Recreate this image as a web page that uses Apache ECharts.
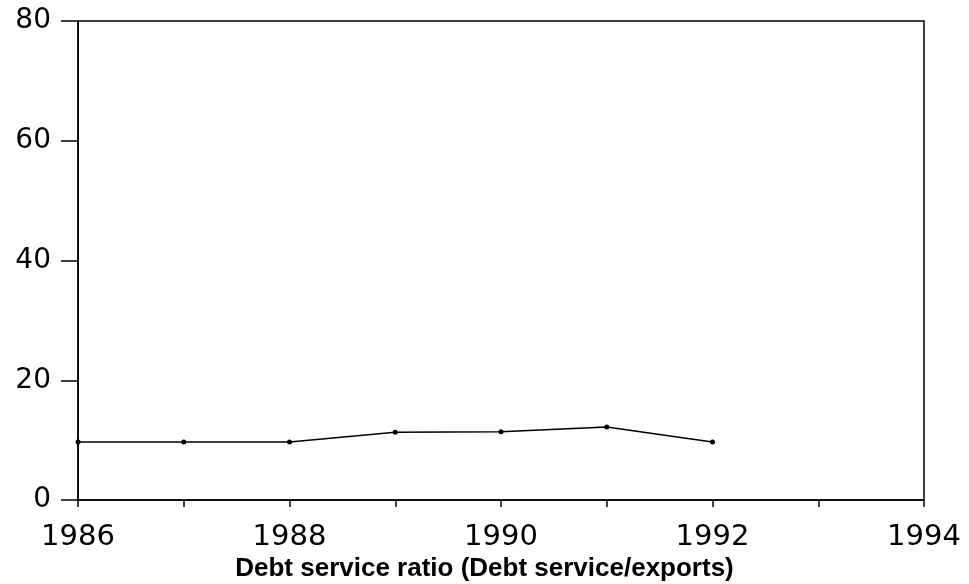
<!DOCTYPE html>
<html>
<head>
<meta charset="utf-8">
<script src="https://cdn.jsdelivr.net/npm/echarts@6/dist/echarts.min.js"></script>
<style>
html, body { margin: 0; padding: 0; background: #fff; }
#chart { width: 969px; height: 584px; }
</style>
</head>
<body>
<div id="chart"></div>
<script>
// values
var years = [1986, 1987, 1988, 1989, 1990, 1991, 1992];
var ratio = [9.7, 9.7, 9.7, 11.3, 11.4, 12.2, 9.7];
var yTicks = [0, 20, 40, 60, 80];
var xTickLabels = [1986, 1988, 1990, 1992, 1994];

var chart = echarts.init(document.getElementById('chart'));

chart.setOption({
    animation: false,
    backgroundColor: '#fff',
    title: {
        text: 'Debt service ratio (Debt service/exports)',
        left: 'center',
        top: 551,
        textStyle: {
            fontFamily: 'Liberation Sans',
            fontWeight: 'bold',
            fontSize: 26,
            color: '#000'
        }
    },
    grid: {
        left: 78,
        right: 45,
        top: 21,
        bottom: 84,
        show: true,
        borderColor: '#000',
        borderWidth: 1.5
    },
    xAxis: {
        type: 'value',
        min: 1986,
        max: 1994,
        interval: 1,
        splitLine: { show: false },
        axisLine: { lineStyle: { color: '#000', width: 1.5 } },
        axisTick: { length: 7, lineStyle: { color: '#000', width: 1.5 } },
        axisLabel: {
            margin: 23,
            color: '#000',
            fontFamily: 'DejaVu Sans',
            fontSize: 29,
            formatter: function (v) {
                return xTickLabels.indexOf(v) >= 0 ? String(v) : '';
            }
        }
    },
    yAxis: {
        type: 'value',
        min: yTicks[0],
        max: yTicks[yTicks.length - 1],
        interval: 20,
        splitLine: { show: false },
        axisLine: { lineStyle: { color: '#000', width: 1.5 } },
        axisTick: { length: 17, lineStyle: { color: '#000', width: 1.5 } },
        axisLabel: {
            margin: 27,
            color: '#000',
            fontFamily: 'DejaVu Sans',
            fontSize: 28
        }
    },
    series: [{
        type: 'line',
        data: years.map(function (y, i) { return [y, ratio[i]]; }),
        symbol: 'circle',
        symbolSize: 5,
        lineStyle: { color: '#000', width: 1.5 },
        itemStyle: { color: '#000' }
    }]
});
</script>
</body>
</html>
